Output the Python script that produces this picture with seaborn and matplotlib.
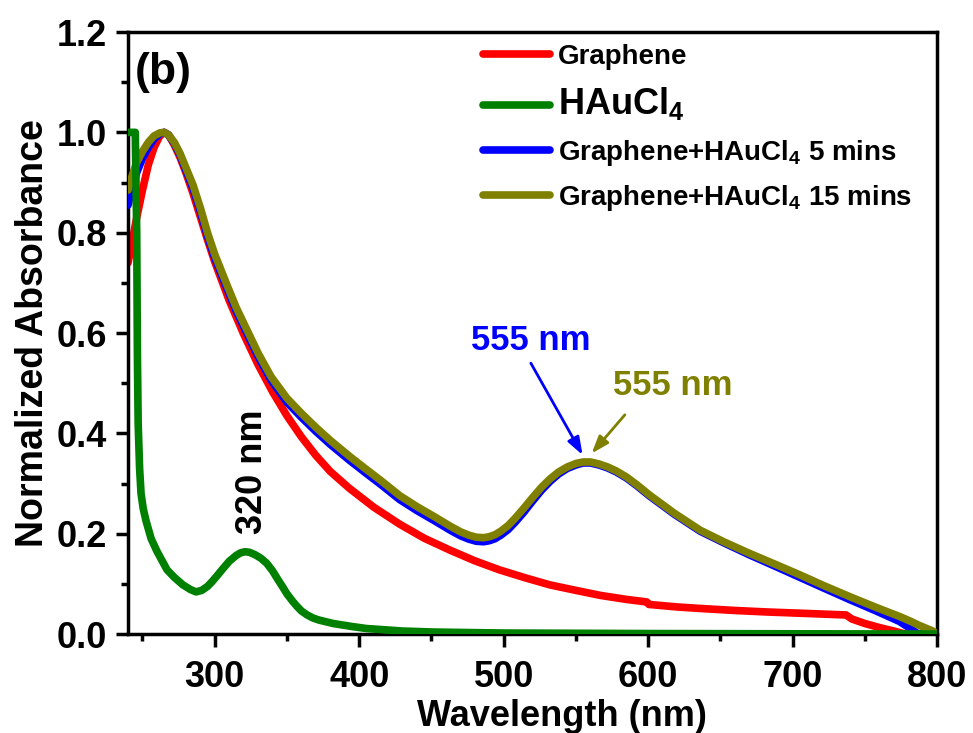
import matplotlib
matplotlib.use('Agg')
import matplotlib.pyplot as plt
import seaborn as sns
import pandas as pd
from matplotlib.ticker import MultipleLocator, FormatStrFormatter

# ==========================================
# data (wavelength nm, normalized absorbance)
# ==========================================
wl_graphene = [240, 243, 246, 250, 254, 258, 262, 265, 268, 272, 276, 280, 285, 290, 295, 300, 310, 320,
               330, 340, 350, 360, 370, 380, 393, 410, 428, 445, 463, 480, 497, 515, 532, 550, 567, 585,
               599, 600.5, 620, 636, 660, 682, 710, 737, 741, 750, 760, 770, 778, 800]
abs_graphene = [0.74, 0.785, 0.83, 0.885, 0.935, 0.97, 0.993, 1.0, 0.995, 0.975, 0.95, 0.92, 0.878, 0.832, 0.786, 0.742, 0.665, 0.598,
                0.537, 0.483, 0.435, 0.393, 0.356, 0.324, 0.291, 0.253, 0.219, 0.191, 0.167, 0.146, 0.128, 0.112, 0.098, 0.087, 0.077, 0.069,
                0.064, 0.059, 0.054, 0.051, 0.047, 0.044, 0.041, 0.038, 0.030, 0.021, 0.013, 0.006, 0.0, 0.0]

wl_haucl4 = [240, 245, 246, 246.5, 247, 248, 249, 250.5, 252.5, 256, 260, 267, 272, 278, 283, 287, 291, 295, 298,
             301, 305, 310, 315, 318, 321, 324, 328, 332, 336, 340, 343, 347, 350, 354, 357, 360, 364, 368, 372,
             382, 395, 405, 430, 451, 500, 600, 700, 800]
abs_haucl4 = [1.0, 1.0, 0.8, 0.55, 0.42, 0.33, 0.28, 0.25, 0.225, 0.19, 0.165, 0.128, 0.113, 0.098, 0.089, 0.084, 0.087, 0.095, 0.104,
              0.114, 0.128, 0.145, 0.157, 0.162, 0.164, 0.163, 0.158, 0.151, 0.141, 0.126, 0.112, 0.094, 0.08, 0.065, 0.055, 0.046, 0.038, 0.032, 0.028,
              0.021, 0.015, 0.011, 0.006, 0.004, 0.002, 0.001, 0.0005, 0.0]

wl_mix = [240, 243, 246, 250, 254, 258, 262, 265, 268, 272, 276, 280, 285, 290, 295, 300, 309, 315, 320, 330,
          339, 350, 360, 370, 380, 393, 405, 415, 428, 440, 452, 463, 470, 476, 481, 486, 490, 494, 498, 503,
          508, 514, 520, 526, 532, 538, 544, 550, 555, 560, 566, 572, 578, 585, 592, 601, 610, 618, 627, 636,
          653, 670, 688, 705, 722, 740, 757, 774, 782, 787, 797, 800]
abs_5min = [0.855, 0.89, 0.92, 0.948, 0.97, 0.987, 0.997, 1.0, 0.995, 0.978, 0.955, 0.925, 0.888, 0.843, 0.793, 0.75, 0.685, 0.643, 0.613, 0.553,
            0.506, 0.462, 0.432, 0.404, 0.378, 0.347, 0.32, 0.298, 0.268, 0.246, 0.226, 0.207, 0.196, 0.189, 0.185, 0.184, 0.186, 0.19, 0.197, 0.208,
            0.223, 0.243, 0.265, 0.286, 0.304, 0.319, 0.33, 0.337, 0.341, 0.341, 0.337, 0.331, 0.323, 0.311, 0.296, 0.275, 0.256, 0.239, 0.222, 0.205,
            0.181, 0.158, 0.135, 0.113, 0.091, 0.068, 0.047, 0.025, 0.01, 0.0, 0.0, 0.0]
abs_15min = [0.885, 0.915, 0.94, 0.962, 0.98, 0.993, 0.999, 1.0, 0.995, 0.98, 0.958, 0.93, 0.895, 0.85, 0.80, 0.757, 0.692, 0.65, 0.62, 0.56,
             0.513, 0.47, 0.44, 0.412, 0.386, 0.355, 0.328, 0.306, 0.276, 0.254, 0.234, 0.215, 0.204, 0.197, 0.193, 0.192, 0.194, 0.198, 0.205, 0.216,
             0.231, 0.251, 0.272, 0.292, 0.309, 0.323, 0.333, 0.340, 0.343, 0.343, 0.339, 0.333, 0.325, 0.313, 0.298, 0.277, 0.258, 0.241, 0.224, 0.207,
             0.183, 0.161, 0.139, 0.118, 0.096, 0.074, 0.054, 0.035, 0.025, 0.018, 0.006, 0.0]

labels = ['Graphene', r'HAuCl$_4$', r'Graphene+HAuCl$_4$ 5 mins', r'Graphene+HAuCl$_4$ 15 mins']
colors = ['#ff0000', '#008000', '#0000ff', '#808000']

# ==========================================
# style
# ==========================================
sns.set_style('white')
plt.rcParams['font.family'] = ['Liberation Sans', 'DejaVu Sans']
plt.rcParams['font.weight'] = 'bold'
plt.rcParams['axes.labelweight'] = 'bold'
plt.rcParams['mathtext.default'] = 'regular'
for k in ['text.color', 'axes.labelcolor', 'xtick.color', 'ytick.color', 'axes.edgecolor']:
    plt.rcParams[k] = 'black'

fig = plt.figure(figsize=(9.73, 7.33), dpi=100)
ax = fig.add_axes([0.1316, 0.135, 0.8315, 0.8213])

series = [
    (wl_graphene, abs_graphene, 5.5, 2),
    (wl_haucl4, abs_haucl4, 5.5, 5),
    (wl_mix, abs_5min, 5.5, 3),
    (wl_mix, abs_15min, 5.5, 4),
]
for (x, y, lw, z), lab, c in zip(series, labels, colors):
    d = pd.DataFrame({'wl': x, 'a': y})
    sns.lineplot(data=d, x='wl', y='a', color=c, lw=lw, label=lab, ax=ax, zorder=z, sort=False)

ax.set_xlim(240, 800)
ax.set_ylim(0, 1.2)
ax.xaxis.set_major_locator(MultipleLocator(100))
ax.xaxis.set_minor_locator(MultipleLocator(50))
ax.yaxis.set_major_locator(MultipleLocator(0.2))
ax.yaxis.set_minor_locator(MultipleLocator(0.1))
ax.yaxis.set_major_formatter(FormatStrFormatter('%.1f'))
ax.tick_params(which='major', direction='out', length=9, width=2.5, labelsize=26,
               bottom=True, left=True, top=False, right=False)
ax.tick_params(axis='x', which='major', pad=10)
ax.tick_params(axis='y', which='major', pad=6)
ax.tick_params(which='minor', direction='out', length=5, width=2.5,
               bottom=True, left=True, top=False, right=False)
for sp in ax.spines.values():
    sp.set_linewidth(2.5)
    sp.set_visible(True)

ax.set_xlabel('Wavelength (nm)', fontsize=26, fontweight='bold')
ax.xaxis.set_label_coords(0.536, -0.108)
ax.set_ylabel('Normalized Absorbance', fontsize=27, fontweight='bold', labelpad=4)

# legend
leg = ax.legend(loc='upper left', bbox_to_anchor=(0.4388, 0.98), frameon=False, fontsize=20,
                handlelength=2.4, handletextpad=0.3, borderpad=0, borderaxespad=0, labelspacing=0.55)
for t in leg.get_texts():
    t.set_fontweight('bold')
leg.get_texts()[1].set_fontsize(26)
for h in leg.get_lines():
    h.set_linewidth(5.5)

# annotations
ax.text(0.0087, 0.932, '(b)', transform=ax.transAxes, fontsize=32, fontweight='bold', ha='left', va='center')
ax.text(326, 0.323, '320 nm', rotation=90, fontsize=26, fontweight='bold', ha='center', va='center')
ax.text(518.8, 0.586, '555 nm', color='#0000ff', fontsize=25, fontweight='bold', ha='center', va='center')
ax.text(617.2, 0.496, '555 nm', color='#808000', fontsize=25, fontweight='bold', ha='center', va='center')
ax.annotate('', xy=(554.6, 0.357), xytext=(518.8, 0.540),
            arrowprops=dict(arrowstyle='-|>,head_length=0.7,head_width=0.25', color='#0000ff', lw=2,
                            mutation_scale=15, shrinkA=0, shrinkB=0))
ax.annotate('', xy=(560.9, 0.360), xytext=(583.9, 0.437),
            arrowprops=dict(arrowstyle='-|>,head_length=0.7,head_width=0.25', color='#808000', lw=2,
                            mutation_scale=15, shrinkA=0, shrinkB=0))

fig.savefig('out.png', dpi=100)
